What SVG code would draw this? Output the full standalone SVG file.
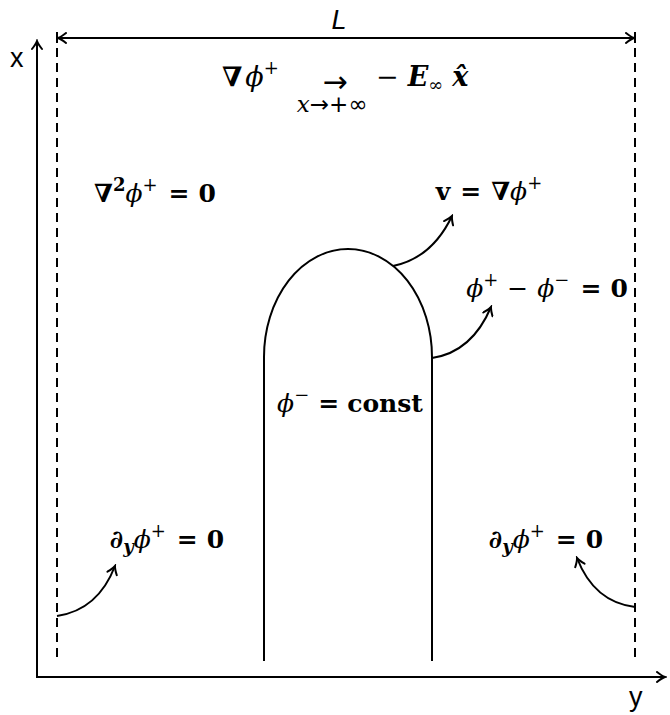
<svg xmlns="http://www.w3.org/2000/svg" width="670" height="715" viewBox="0 0 670 715">
<defs>
<style>
.ax{stroke:#000;stroke-width:2;fill:none}
.dash{stroke:#000;stroke-width:2;fill:none;stroke-dasharray:9,6}
.ln{stroke:#000;stroke-width:2;fill:none}
.m{font-family:"DejaVu Serif","Liberation Serif",serif;font-size:25px;fill:#000}
.big{font-size:27px}
.b{font-weight:bold}
.i{font-style:italic}
.s{font-size:18px}
.sub{font-size:23px}
.arr{font-size:30px}
.ar{font-family:"DejaVu Sans",sans-serif}
.lab{font-family:"Liberation Sans",Arial,sans-serif;font-size:27px;fill:#000}
</style>
<marker id="ah" viewBox="-10 -6 12 12" markerWidth="12" markerHeight="12" refX="0" refY="0" orient="auto" markerUnits="userSpaceOnUse">
<path d="M-8,-5 Q-3,-1 0,0 Q-3,1 -8,5" fill="none" stroke="#000" stroke-width="2" stroke-linecap="round"/>
</marker>
<marker id="ahs" viewBox="-10 -6 12 12" markerWidth="12" markerHeight="12" refX="0" refY="0" orient="auto-start-reverse" markerUnits="userSpaceOnUse">
<path d="M-8,-5 Q-3,-1 0,0 Q-3,1 -8,5" fill="none" stroke="#000" stroke-width="2" stroke-linecap="round"/>
</marker>
</defs>
<rect width="670" height="715" fill="#fff"/>

<g id="axes">
<line class="ax" x1="37" y1="678" x2="37" y2="41" marker-end="url(#ah)"/>
<line class="ax" x1="36" y1="677" x2="665" y2="677" marker-end="url(#ah)"/>
<text class="lab" x="10" y="67">x</text>
<text class="lab" x="629" y="706">y</text>
</g>

<g id="walls">
<line class="dash" x1="57" y1="48" x2="57" y2="662"/>
<line class="dash" x1="635" y1="48" x2="635" y2="662"/>
</g>

<g id="length">
<line class="ln" x1="57" y1="32" x2="57" y2="43"/>
<line class="ln" x1="635" y1="32" x2="635" y2="43"/>
<line class="ln" x1="58" y1="38" x2="634" y2="38" marker-start="url(#ahs)" marker-end="url(#ah)"/>
<text class="lab i" x="339" y="29" text-anchor="middle">L</text>
</g>

<g id="bullet">
<path class="ln" d="M264,661 L264,357 A84,108 0 0 1 432,357 L432,661"/>
</g>

<g id="connectors">
<path class="ln" d="M393,266 Q432,258 452,216" marker-end="url(#ah)"/>
<path class="ln" d="M432,358 Q472,352 491,307" marker-end="url(#ah)"/>
<path class="ln" d="M57,616 Q98,610 115,566" marker-end="url(#ah)"/>
<path class="ln" d="M635,607 Q594,602 577,558" marker-end="url(#ah)"/>
</g>

<g id="far-field">
<text class="m big" x="222" y="86"><tspan class="b">∇</tspan><tspan class="i" dx="3">ϕ</tspan><tspan class="s" dy="-12">+</tspan></text>
<text class="m"><tspan class="ar arr" x="335" y="92" text-anchor="middle">→</tspan><tspan class="i sub" x="332" y="112" text-anchor="middle">x</tspan><tspan class="ar sub">→+∞</tspan></text>
<text class="m big" x="376" y="86">−<tspan class="i b" dx="9">E</tspan><tspan class="s" dy="5">∞</tspan><tspan class="i b" dy="-5" dx="9">x̂</tspan></text>
</g>

<g id="laplace">
<text class="m" x="155" y="202" text-anchor="middle"><tspan class="b">∇</tspan><tspan class="b s" dy="-11">2</tspan><tspan class="i" dy="11">ϕ</tspan><tspan class="s" dy="-11">+</tspan><tspan class="b" dy="11" dx="11">=</tspan><tspan class="b" dx="9">0</tspan></text>
</g>

<g id="velocity">
<text class="m" x="489" y="200" text-anchor="middle"><tspan class="b">v</tspan><tspan class="b" dx="10">=</tspan><tspan class="b" dx="10">∇</tspan><tspan class="i">ϕ</tspan><tspan class="s" dy="-11">+</tspan></text>
</g>

<g id="continuity">
<text class="m" x="547" y="297" text-anchor="middle"><tspan class="i">ϕ</tspan><tspan class="s" dy="-11">+</tspan><tspan dy="11" dx="9">−</tspan><tspan class="i" dx="9">ϕ</tspan><tspan class="s" dy="-11">−</tspan><tspan class="b" dy="11" dx="11">=</tspan><tspan class="b" dx="9">0</tspan></text>
</g>

<g id="inside">
<text class="m" x="350" y="412" text-anchor="middle"><tspan class="i">ϕ</tspan><tspan class="s" dy="-11">−</tspan><tspan class="b" dy="11" dx="9">=</tspan><tspan class="b" dx="8">const</tspan></text>
</g>

<g id="bc-left">
<text class="m" x="167" y="548" text-anchor="middle"><tspan class="i b">∂</tspan><tspan class="i b s" dy="5">y</tspan><tspan class="i" dy="-5">ϕ</tspan><tspan class="s" dy="-11">+</tspan><tspan class="b" dy="11" dx="11">=</tspan><tspan class="b" dx="9">0</tspan></text>
</g>

<g id="bc-right">
<text class="m" x="546" y="548" text-anchor="middle"><tspan class="i b">∂</tspan><tspan class="i b s" dy="5">y</tspan><tspan class="i" dy="-5">ϕ</tspan><tspan class="s" dy="-11">+</tspan><tspan class="b" dy="11" dx="11">=</tspan><tspan class="b" dx="9">0</tspan></text>
</g>
</svg>
